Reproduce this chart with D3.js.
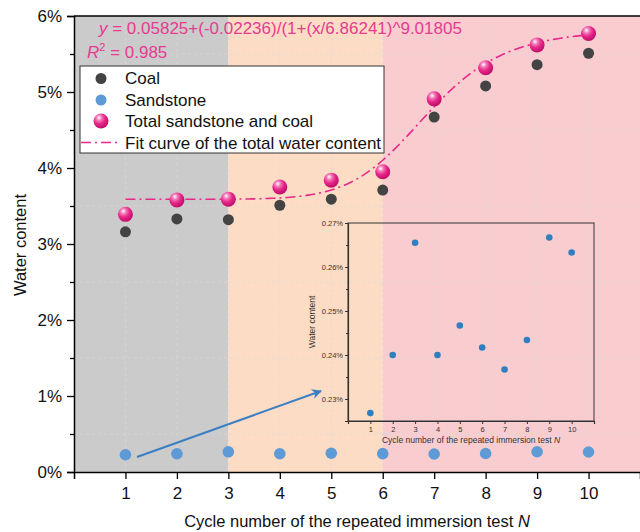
<!DOCTYPE html>
<html lang = "en">
   <head>
      <script src = "https://cdn.jsdelivr.net/npm/d3@7/dist/d3.min.js"></script>
      <style>
         body { margin: 0; background: #fff; }
         text { font-family: Arial, "Liberation Sans", sans-serif; }
      </style>
    </head>

   <body>
    <div id="chart"></div>
      <script>
         // data (water content in %)
         let cycles = [1, 2, 3, 4, 5, 6, 7, 8, 9, 10]
         let coal = [3.16, 3.33, 3.32, 3.51, 3.59, 3.71, 4.67, 5.08, 5.36, 5.51]
         let total = [3.39, 3.58, 3.59, 3.75, 3.84, 3.95, 4.91, 5.32, 5.62, 5.77]
         let sandstone = [0.2268, 0.2400, 0.2655, 0.2400, 0.2467, 0.2417, 0.2367, 0.2434, 0.2667, 0.2633]

         // fit parameters shown in the equation: A2, A1, x0, p
         let fitParams = [0.05825, -0.02236, 6.86241, 9.01805]

         let yTicks = [0, 1, 2, 3, 4, 5, 6]
         let insetYTicks = [0.23, 0.24, 0.25, 0.26, 0.27]
         // stages of the test, drawn as background bands
         let stages = [[0, 3], [3, 6], [6, 11]]
         let stageColors = ['#cbcbcb', '#fddcc5', '#f9cdd0']

         const w = 640
         const h = 532
         const pink = '#e8288a'
         const pinkText = '#e83a91'

         let svg = d3.select('#chart')
                     .append('svg')
                     .attr('width', w)
                     .attr('height', h)

         // sphere look for the total markers
         let grad = svg.append('defs').append('radialGradient')
                     .attr('id', 'ball')
                     .attr('cx', '38%').attr('cy', '32%').attr('r', '65%')
                     .attr('fx', '36%').attr('fy', '28%')
         grad.append('stop').attr('offset', '0%').attr('stop-color', '#fff')
         grad.append('stop').attr('offset', '28%').attr('stop-color', '#f27cb8')
         grad.append('stop').attr('offset', '60%').attr('stop-color', pink)
         grad.append('stop').attr('offset', '100%').attr('stop-color', '#c4106c')

         let marker = svg.select('defs').append('marker')
                     .attr('id', 'arrow')
                     .attr('viewBox', '0 0 10 10')
                     .attr('refX', 9).attr('refY', 5)
                     .attr('markerWidth', 6).attr('markerHeight', 5)
                     .attr('orient', 'auto')
         marker.append('path').attr('d', 'M0,0 L10,5 L0,10 L3,5 Z').attr('fill', '#3a7fc3')

         // main scales
         let scaleX = d3.scaleLinear().domain([0, 11]).range([74, 640])
         let scaleY = d3.scaleLinear().domain([0, 6]).range([472, 16])

         svg.selectAll('rect.stage')
            .data(stages)
            .enter()
            .append('rect')
            .attr('class', 'stage')
            .attr('x', function(d) { return scaleX(d[0]) })
            .attr('y', scaleY(6))
            .attr('width', function(d) { return scaleX(d[1]) - scaleX(d[0]) })
            .attr('height', scaleY(0) - scaleY(6))
            .attr('fill', function(d, i) { return stageColors[i] })

         // dashed grid: verticals at every cycle, horizontals at the minor ticks
         let grid = svg.append('g').attr('stroke', '#dadada').attr('stroke-width', 0.8)
                     .attr('stroke-dasharray', '3,3').attr('opacity', 0.8)
         grid.selectAll('line.v')
            .data(cycles)
            .enter()
            .append('line')
            .attr('x1', function(d) { return scaleX(d) })
            .attr('x2', function(d) { return scaleX(d) })
            .attr('y1', scaleY(0)).attr('y2', scaleY(6))
         grid.selectAll('line.h')
            .data(yTicks.slice(0, -1))
            .enter()
            .append('line')
            .attr('x1', scaleX(0)).attr('x2', scaleX(11))
            .attr('y1', function(d) { return scaleY(d + 0.5) })
            .attr('y2', function(d) { return scaleY(d + 0.5) })

         // axes
         let xAxis = d3.axisBottom(scaleX).tickValues(cycles).tickSize(7).tickPadding(8)
         let gx = svg.append('g').attr('transform', 'translate(0,' + scaleY(0) + ')').call(xAxis)
         gx.selectAll('text').attr('font-size', 17).attr('fill', '#111')

         let yAxis = d3.axisLeft(scaleY).tickValues(yTicks).tickSize(7).tickPadding(5)
                        .tickFormat(function(d) { return d + '%' })
         let gy = svg.append('g').attr('transform', 'translate(' + scaleX(0) + ',0)').call(yAxis)
         gy.selectAll('text').attr('font-size', 17).attr('fill', '#111')

         let yMinor = d3.axisLeft(scaleY).tickValues(yTicks.slice(0, -1).map(function(d) { return d + 0.5 }))
                        .tickSize(4).tickFormat('')
         svg.append('g').attr('transform', 'translate(' + scaleX(0) + ',0)').call(yMinor)
            .select('.domain').remove()

         svg.selectAll('.domain').attr('stroke-width', 1.5)
         svg.selectAll('.tick line').attr('stroke-width', 1.3)

         // top frame line
         svg.append('line')
            .attr('x1', scaleX(0)).attr('x2', scaleX(11))
            .attr('y1', scaleY(6)).attr('y2', scaleY(6))
            .attr('stroke', '#000').attr('stroke-width', 1.5)

         svg.append('text')
            .attr('x', (scaleX(0) + scaleX(11)) / 2)
            .attr('y', 527)
            .attr('text-anchor', 'middle')
            .attr('font-size', 16.5)
            .attr('fill', '#111')
            .html('Cycle number of the repeated immersion test <tspan font-style="italic">N</tspan>')

         svg.append('text')
            .attr('transform', 'translate(26,245) rotate(-90)')
            .attr('text-anchor', 'middle')
            .attr('font-size', 16.5)
            .attr('fill', '#111')
            .text('Water content')

         // fit curve from the equation parameters
         function fitCurve(x) {
            return 100 * (fitParams[0] + fitParams[1] / (1 + Math.pow(x / fitParams[2], fitParams[3])))
         }
         let curveX = d3.range(1, 10.001, 0.05)
         let line = d3.line()
                     .x(function(d) { return scaleX(d) })
                     .y(function(d) { return scaleY(fitCurve(d)) })
         svg.append('path')
            .datum(curveX)
            .attr('d', line)
            .attr('fill', 'none')
            .attr('stroke', pink)
            .attr('stroke-width', 1.6)
            .attr('stroke-dasharray', '10,4,2,4')

         svg.selectAll('circle.coal')
            .data(coal)
            .enter()
            .append('circle')
            .attr('cx', function(d, i) { return scaleX(cycles[i]) })
            .attr('cy', function(d) { return scaleY(d) })
            .attr('r', 5.5)
            .attr('fill', '#434343')

         svg.selectAll('circle.sand')
            .data(sandstone)
            .enter()
            .append('circle')
            .attr('cx', function(d, i) { return scaleX(cycles[i]) })
            .attr('cy', function(d) { return scaleY(d) })
            .attr('r', 5.8)
            .attr('fill', '#5e9ad5')

         svg.selectAll('circle.total')
            .data(total)
            .enter()
            .append('circle')
            .attr('cx', function(d, i) { return scaleX(cycles[i]) })
            .attr('cy', function(d) { return scaleY(d) })
            .attr('r', 7.5)
            .attr('fill', 'url(#ball)')

         // equation text
         svg.append('text')
            .attr('x', 99).attr('y', 34)
            .attr('font-size', 17)
            .attr('fill', pinkText)
            .html('<tspan font-style="italic">y</tspan> = 0.05825+(-0.02236)/(1+(x/6.86241)^9.01805')
         svg.append('text')
            .attr('x', 87).attr('y', 58)
            .attr('font-size', 17)
            .attr('fill', pinkText)
            .html('<tspan font-style="italic">R</tspan><tspan dy="-7" font-size="11">2</tspan><tspan dy="7"> = 0.985</tspan>')

         // legend
         let legend = svg.append('g')
         legend.append('rect')
            .attr('x', 80).attr('y', 66).attr('width', 304).attr('height', 87)
            .attr('fill', '#fff').attr('stroke', '#333').attr('stroke-width', 1)
         let legendNames = ['Coal', 'Sandstone', 'Total sandstone and coal', 'Fit curve of the total water content']
         legend.selectAll('text')
            .data(legendNames)
            .enter()
            .append('text')
            .attr('x', 125)
            .attr('y', function(d, i) { return 84 + i * 21.5 })
            .attr('font-size', 17)
            .attr('fill', '#111')
            .text(function(d) { return d })
         legend.append('circle').attr('cx', 101).attr('cy', 78.5).attr('r', 5.5).attr('fill', '#434343')
         legend.append('circle').attr('cx', 101).attr('cy', 100).attr('r', 5.5).attr('fill', '#5e9ad5')
         legend.append('circle').attr('cx', 101).attr('cy', 121).attr('r', 7.5).attr('fill', 'url(#ball)')
         legend.append('line')
            .attr('x1', 81).attr('x2', 121).attr('y1', 142.5).attr('y2', 142.5)
            .attr('stroke', pink).attr('stroke-width', 1.6).attr('stroke-dasharray', '10,4,2,4')

         // arrow from sandstone points to the inset
         svg.append('line')
            .attr('x1', 137).attr('y1', 457)
            .attr('x2', 321).attr('y2', 391)
            .attr('stroke', '#3a7fc3').attr('stroke-width', 2)
            .attr('marker-end', 'url(#arrow)')

         // inset: sandstone only
         let insX = d3.scaleLinear().domain([0, 11]).range([348, 594])
         let insY = d3.scaleLinear().domain([0.225, 0.27]).range([421, 223])

         let inset = svg.append('g')
         inset.append('rect')
            .attr('x', insX(0)).attr('y', insY(0.27))
            .attr('width', insX(11) - insX(0)).attr('height', insY(0.225) - insY(0.27))
            .attr('fill', 'none').attr('stroke', '#333').attr('stroke-width', 1)

         let insXAxis = d3.axisBottom(insX).tickValues(cycles).tickSize(3).tickPadding(3)
         let ix = inset.append('g').attr('transform', 'translate(0,' + insY(0.225) + ')').call(insXAxis)
         let insYAxis = d3.axisLeft(insY).tickValues(insetYTicks).tickSize(3).tickPadding(2)
                        .tickFormat(function(d) { return d.toFixed(2) + '%' })
         let iy = inset.append('g').attr('transform', 'translate(' + insX(0) + ',0)').call(insYAxis)
         let insMinor = d3.axisLeft(insY).tickValues([0.235, 0.245, 0.255, 0.265]).tickSize(2).tickFormat('')
         inset.append('g').attr('transform', 'translate(' + insX(0) + ',0)').call(insMinor)
            .select('.domain').remove()
         inset.selectAll('.domain').attr('stroke', '#333').attr('stroke-width', 1.2)
         inset.selectAll('.tick line').attr('stroke', '#333')
         inset.selectAll('.tick text').attr('font-size', 7.5).attr('fill', '#333')

         inset.append('text')
            .attr('x', (insX(0) + insX(11)) / 2).attr('y', 443)
            .attr('text-anchor', 'middle')
            .attr('font-size', 8.5)
            .attr('fill', '#333')
            .html('Cycle number of the repeated immersion test <tspan font-style="italic">N</tspan>')
         inset.append('text')
            .attr('transform', 'translate(315,' + ((insY(0.225) + insY(0.27)) / 2) + ') rotate(-90)')
            .attr('text-anchor', 'middle')
            .attr('font-size', 8.5)
            .attr('fill', '#333')
            .text('Water content')

         inset.selectAll('circle')
            .data(sandstone)
            .enter()
            .append('circle')
            .attr('cx', function(d, i) { return insX(cycles[i]) })
            .attr('cy', function(d) { return insY(d) })
            .attr('r', 3.3)
            .attr('fill', '#2f7fc1')
      </script>
   </body>
</html>
